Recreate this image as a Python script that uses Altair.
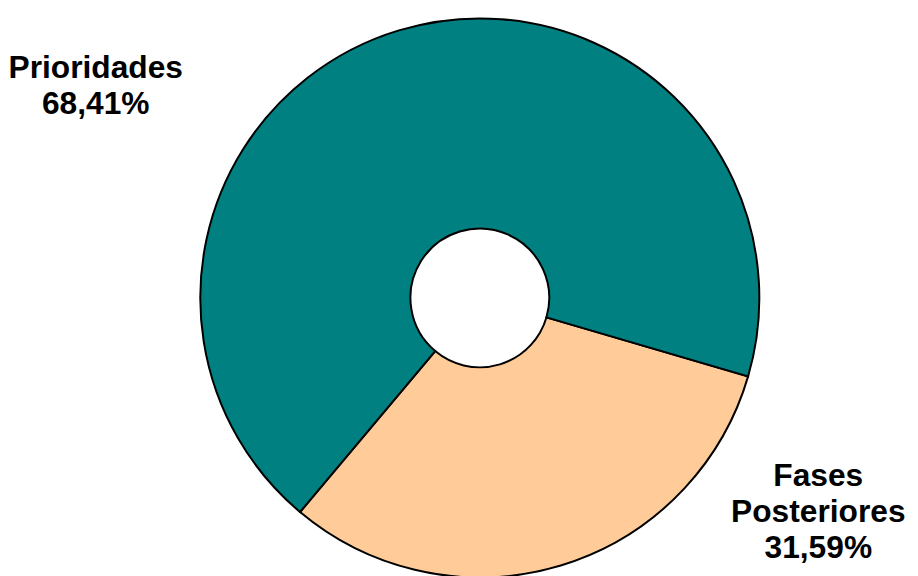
import math
import altair as alt
import pandas as pd

categories = ["Fases Posteriores", "Prioridades"]
values = [31.59, 68.41]
label_lines = [["Fases", "Posteriores"], ["Prioridades"]]
colors = ["#FFCC99", "#008080"]

def fmt(v):
    return f"{v:.2f}".replace(".", ",") + "%"

df = pd.DataFrame({
    "categoria": categories,
    "valor": values,
    "orden": list(range(len(categories))),
    "etiqueta": ["\n".join(lines + [fmt(v)]) for lines, v in zip(label_lines, values)],
})

start = math.radians(106.3)

base = alt.Chart(df)

arcs = base.mark_arc(
    outerRadius=282, innerRadius=70, stroke="black", strokeWidth=2
).encode(
    theta=alt.Theta("valor:Q", stack=True, scale=alt.Scale(range=[start, start + 2 * math.pi])),
    order=alt.Order("orden:Q"),
    color=alt.Color("categoria:N", scale=alt.Scale(domain=categories, range=colors), legend=None),
    x=alt.value(476),
    y=alt.value(290),
)

txt_style = dict(font="Liberation Sans", fontSize=32, fontWeight="bold",
                 lineHeight=36, align="center", baseline="middle", color="black", lineBreak="\n")

t_prior = base.transform_filter(alt.datum.categoria == "Prioridades").mark_text(
    x=88.5, y=58, **txt_style
).encode(text="etiqueta:N")

t_fases = base.transform_filter(alt.datum.categoria == "Fases Posteriores").mark_text(
    x=817.5, y=470, **txt_style
).encode(text="etiqueta:N")

chart = alt.layer(arcs, t_prior, t_fases).properties(
    width=910, height=568, padding=0, autosize=alt.AutoSizeParams(type="none")
).configure_view(stroke=None)

chart.save("out.html", embed_options={"renderer": "svg", "actions": False})
